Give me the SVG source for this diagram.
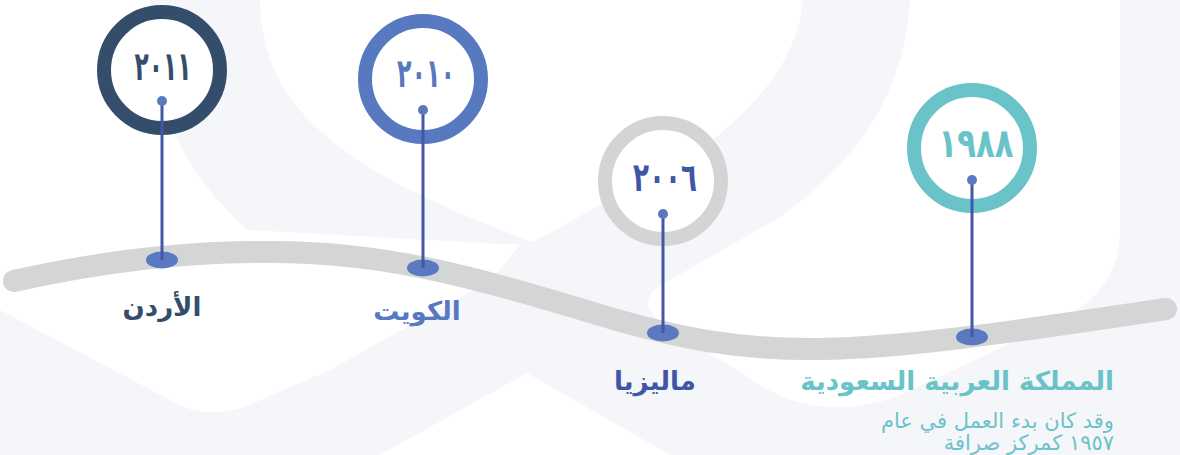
<svg xmlns="http://www.w3.org/2000/svg" width="1180" height="455" viewBox="0 0 1180 455">
<style>
.bg{fill:#f5f6fa}
.wh{fill:#ffffff}
.ring{fill:#ffffff;stroke-width:14}
.yr{font-family:"DejaVu Sans",sans-serif;font-weight:bold;font-size:40px;text-anchor:middle}
.lbl{font-family:"DejaVu Sans",sans-serif;font-weight:bold;font-size:26px}
.desc{font-family:"DejaVu Sans",sans-serif;font-size:21px;fill:#6cc3c9;text-anchor:end}
.stem{stroke:#4456a6;stroke-width:3}
.pin{fill:#5a79c0}
</style>
<g id="background">
<rect class="bg" x="0" y="0" width="1180" height="455"/>
<path class="wh" d="M0,0 L150,0 C150,100 180,170 250,232 L0,236 Z"/>
<path class="wh" d="M260,0 C262,80 300,130 400,185 C460,215 500,230 533,242 L600,205 L713,140 C760,100 797,60 803,0 Z"/>
<path class="wh" d="M910,0 C905,90 860,160 780,217 L665,283 C640,297 645,310 665,325 L760,385 C800,410 850,415 900,395 L1060,320 C1100,300 1120,270 1120,230 L1120,0 Z"/>
<path class="wh" d="M0,230 L250,230 L520,245 L491,280 L330,370 L260,400 C225,418 195,415 170,400 L0,310 Z"/>
<path class="wh" d="M380,455 L527,373 L670,455 Z"/>
<path id="timeline" d="M14,281 C90,264 170,252 260,252 C380,250 470,276 600,315 C680,339 740,350 820,349 C900,348 1000,334 1166,309" fill="none" stroke="#d4d5d5" stroke-width="22" stroke-linecap="round"/>
</g>
<g id="node-2011">
<circle class="ring" cx="162" cy="70" r="58" stroke="#344d6b"/>
<text class="yr" x="163" y="80" fill="#344d6b" textLength="57" lengthAdjust="spacingAndGlyphs">٢٠١١</text>
<ellipse class="pin" cx="162" cy="260" rx="16" ry="8.5"/>
<text class="lbl" x="162" y="316" fill="#344d6b" text-anchor="middle">الأردن</text>
</g>
<g id="node-2010">
<circle class="ring" cx="423" cy="79" r="58" stroke="#5679bf"/>
<text class="yr" x="426" y="87" fill="#5679bf" textLength="58" lengthAdjust="spacingAndGlyphs">٢٠١٠</text>
<ellipse class="pin" cx="423" cy="268" rx="16" ry="8.5"/>
<text class="lbl" x="417" y="320" fill="#5679bf" text-anchor="middle">الكويت</text>
</g>
<g id="node-2006">
<circle class="ring" cx="663" cy="181" r="58" stroke="#d3d4d4"/>
<text class="yr" x="665" y="191" fill="#3f55a5" textLength="64" lengthAdjust="spacingAndGlyphs">٢٠٠٦</text>
<ellipse class="pin" cx="663" cy="333" rx="16" ry="8.5"/>
<text class="lbl" x="655" y="390" fill="#3f55a5" text-anchor="middle">ماليزيا</text>
</g>
<g id="node-1988">
<circle class="ring" cx="972" cy="148" r="58" stroke="#69c3c9"/>
<text class="yr" x="976" y="157" fill="#69c3c9" textLength="75" lengthAdjust="spacingAndGlyphs">١٩٨٨</text>
<ellipse class="pin" cx="972" cy="337" rx="16" ry="8.5"/>
<text class="lbl" x="1114" y="390" fill="#69c3c9" text-anchor="end" font-size="27">المملكة العربية السعودية</text>
<text class="desc" x="1114" y="428">وقد كان بدء العمل في عام</text>
<text class="desc" x="1114" y="450">١٩٥٧ كمركز صرافة</text>
</g>
<g id="connectors">
<line class="stem" x1="162" y1="101" x2="162" y2="260"/>
<line class="stem" x1="423" y1="110" x2="423" y2="268"/>
<line class="stem" x1="663" y1="214" x2="663" y2="333"/>
<line class="stem" x1="972" y1="180" x2="972" y2="337"/>
<circle class="pin" cx="162" cy="101" r="5"/>
<circle class="pin" cx="423" cy="110" r="5"/>
<circle class="pin" cx="663" cy="214" r="5"/>
<circle class="pin" cx="972" cy="180" r="5"/>
</g>
</svg>
